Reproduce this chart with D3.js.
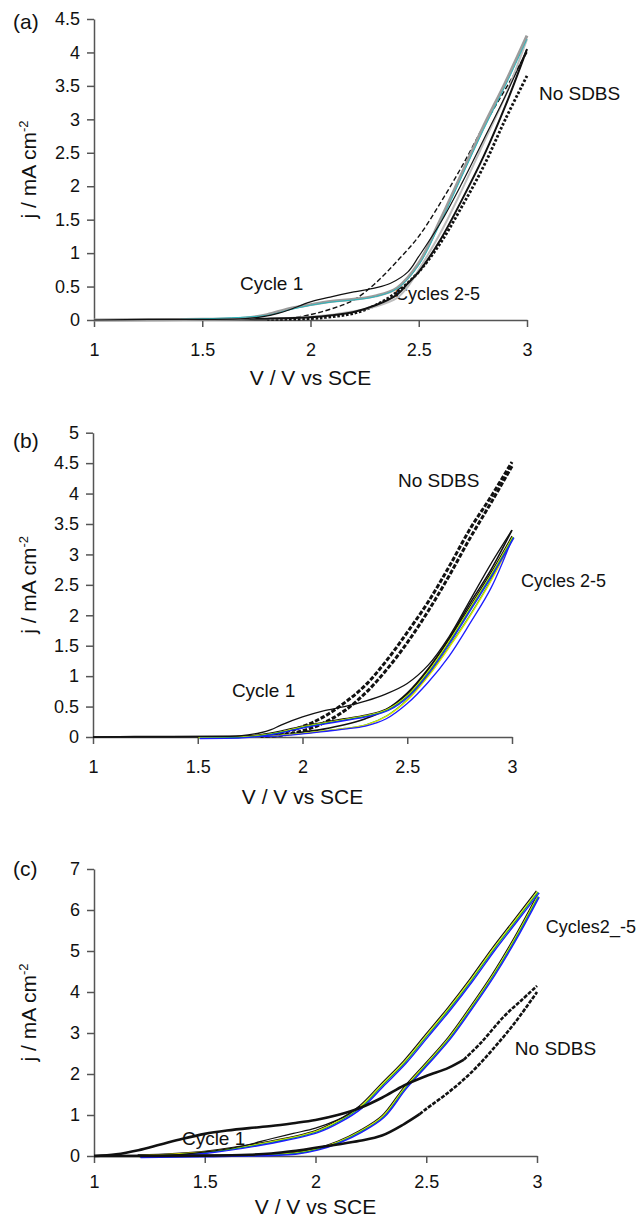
<!DOCTYPE html>
<html lang="en">
<head>
<meta charset="UTF-8">
<title>Cyclic voltammograms with and without SDBS</title>
<script src="https://d3js.org/d3.v7.min.js"></script>
<style>
    body { margin: 0; background: #fff; }
    svg { display: block; font-family: "Liberation Sans", Arial, sans-serif; }
    .axis path, .axis line { stroke: #555; stroke-width: 1.5px; }
    .axis text { font-size: 18px; fill: #111; font-family: "Liberation Sans", Arial, sans-serif; }
    .title { font-size: 21px; fill: #111; }
    .note { font-size: 19px; fill: #111; }
    .letter { font-size: 21px; fill: #111; }
    .curve { fill: none; stroke-linejoin: round; stroke-linecap: butt; }
</style>
</head>
<body>
<svg id="chart" width="640" height="1220"></svg>
<script>
    // tick values
    const xTicks = [1, 1.5, 2, 2.5, 3];
    const yTicksA = [0, 0.5, 1, 1.5, 2, 2.5, 3, 3.5, 4, 4.5];
    const yTicksB = [0, 0.5, 1, 1.5, 2, 2.5, 3, 3.5, 4, 4.5, 5];
    const yTicksC = [0, 1, 2, 3, 4, 5, 6, 7];

    // panel (a) : [V, j]
    const aCycle1Fwd = [[1, 0], [1.25, 0.01], [1.5, 0.01], [1.7, 0.02], [1.78, 0.05], [1.85, 0.1], [1.9, 0.15], [2.0, 0.27], [2.1, 0.35], [2.2, 0.42], [2.3, 0.48], [2.37, 0.55], [2.45, 0.72], [2.5, 0.95], [2.6, 1.45], [2.7, 2.05], [2.8, 2.7], [2.9, 3.35], [3.0, 4.05]];
    const aCycle1Rev = [[3.0, 4.05], [2.9, 3.2], [2.8, 2.45], [2.7, 1.8], [2.6, 1.2], [2.5, 0.72], [2.45, 0.55], [2.4, 0.38], [2.3, 0.22], [2.2, 0.12], [2.1, 0.07], [2.0, 0.04], [1.8, 0.02], [1.5, 0.01], [1, 0]];
    const aGreyFwd = [[1, 0], [1.5, 0.01], [1.7, 0.03], [1.8, 0.08], [1.9, 0.17], [2.0, 0.23], [2.1, 0.28], [2.2, 0.31], [2.3, 0.36], [2.4, 0.48], [2.5, 0.85], [2.6, 1.5], [2.7, 2.2], [2.8, 2.9], [2.9, 3.55], [3.0, 4.25]];
    const aCyanFwd = [[1.4, 0.01], [1.8, 0.07], [1.9, 0.15], [2.0, 0.22], [2.1, 0.27], [2.2, 0.3], [2.3, 0.35], [2.4, 0.47], [2.5, 0.82], [2.6, 1.45], [2.7, 2.15], [2.8, 2.85], [2.9, 3.5], [3.0, 4.2]];
    const aGreyRev = [[3.0, 4.2], [2.9, 3.35], [2.8, 2.65], [2.7, 1.95], [2.6, 1.3], [2.5, 0.75], [2.45, 0.5], [2.4, 0.33], [2.3, 0.2], [2.2, 0.13], [2.1, 0.08], [2.0, 0.05], [1.8, 0.02], [1.5, 0.01], [1, 0]];
    const aNoSdbsFwd = [[1.9, 0.02], [2.0, 0.08], [2.1, 0.17], [2.2, 0.3], [2.3, 0.55], [2.4, 0.88], [2.5, 1.25], [2.6, 1.75], [2.7, 2.3], [2.8, 2.9], [2.9, 3.45], [3.0, 4.0]];
    const aNoSdbsRev = [[3.0, 3.65], [2.9, 3.0], [2.8, 2.3], [2.7, 1.7], [2.6, 1.15], [2.5, 0.72], [2.4, 0.42], [2.3, 0.22], [2.2, 0.1], [2.1, 0.05], [2.0, 0.02], [1.8, 0.01]];

    // panel (b)
    const bCycle1Fwd = [[1, 0], [1.2, 0.01], [1.5, 0.01], [1.7, 0.02], [1.8, 0.07], [1.85, 0.12], [1.9, 0.2], [2.0, 0.33], [2.1, 0.43], [2.2, 0.5], [2.3, 0.59], [2.4, 0.71], [2.5, 0.88], [2.6, 1.18], [2.7, 1.65], [2.8, 2.25], [2.9, 2.85], [3.0, 3.4]];
    const bCycle1Rev = [[3.0, 3.4], [2.9, 2.75], [2.8, 2.2], [2.7, 1.62], [2.6, 1.12], [2.5, 0.72], [2.4, 0.45], [2.3, 0.3], [2.2, 0.2], [2.1, 0.13], [2.0, 0.08], [1.9, 0.03], [1.7, 0.01], [1, 0]];
    const bCycUp = [[1.5, 0], [1.7, 0.01], [1.8, 0.04], [1.9, 0.1], [2.0, 0.18], [2.1, 0.24], [2.2, 0.3], [2.3, 0.36], [2.4, 0.46], [2.5, 0.7], [2.6, 1.1], [2.7, 1.6], [2.8, 2.15], [2.9, 2.7], [3.0, 3.3]];
    const bCycDown = [[3.0, 3.28], [2.9, 2.6], [2.8, 2.02], [2.7, 1.5], [2.6, 1.02], [2.5, 0.62], [2.4, 0.35], [2.3, 0.2], [2.2, 0.14], [2.1, 0.1], [2.0, 0.06], [1.9, 0.03], [1.8, 0.01], [1.5, 0]];
    const bBlueDown = [[3.0, 3.25], [2.9, 2.45], [2.8, 1.87], [2.7, 1.33], [2.6, 0.9], [2.5, 0.55], [2.4, 0.3], [2.3, 0.18], [2.2, 0.13], [2.1, 0.09], [2.0, 0.05], [1.9, 0.02], [1.8, 0.01]];
    const bNoSdbsUp = [[1.8, 0.02], [1.9, 0.07], [2.0, 0.17], [2.1, 0.33], [2.2, 0.56], [2.3, 0.85], [2.4, 1.25], [2.5, 1.72], [2.6, 2.22], [2.7, 2.8], [2.8, 3.42], [2.9, 3.95], [3.0, 4.52]];
    const bNoSdbsDown = [[3.0, 4.45], [2.9, 3.85], [2.8, 3.27], [2.7, 2.65], [2.6, 2.07], [2.5, 1.55], [2.4, 1.1], [2.3, 0.72], [2.2, 0.43], [2.1, 0.23], [2.0, 0.1], [1.9, 0.03], [1.8, 0.01]];

    // panel (c)
    const cBlackUp = [[1.0, 0], [1.1, 0.04], [1.2, 0.14], [1.3, 0.28], [1.4, 0.42], [1.5, 0.54], [1.6, 0.62], [1.7, 0.68], [1.8, 0.73], [1.9, 0.8], [2.0, 0.88], [2.1, 1.0], [2.2, 1.17], [2.3, 1.42], [2.4, 1.72], [2.5, 1.95], [2.6, 2.15], [2.67, 2.35]];
    const cNoSdbsUp = [[2.67, 2.35], [2.75, 2.78], [2.85, 3.4], [2.93, 3.8], [3.0, 4.15]];
    const cBlackDown = [[1.0, 0], [1.5, 0.01], [1.7, 0.03], [1.8, 0.06], [1.9, 0.12], [2.0, 0.2], [2.1, 0.28], [2.2, 0.37], [2.3, 0.5], [2.4, 0.78], [2.47, 1.02]];
    const cNoSdbsDown = [[2.47, 1.02], [2.5, 1.15], [2.6, 1.55], [2.7, 2.02], [2.8, 2.6], [2.9, 3.25], [3.0, 4.0]];
    const cThin = [[1.2, 0], [1.4, 0.04], [1.5, 0.1], [1.6, 0.17], [1.7, 0.28], [1.8, 0.42], [1.9, 0.55], [2.0, 0.68], [2.1, 0.88], [2.15, 1.02], [2.2, 1.22]];
    const cCycUp = [[1.2, 0.01], [1.5, 0.1], [1.8, 0.35], [2.0, 0.6], [2.1, 0.85], [2.2, 1.2], [2.3, 1.75], [2.4, 2.3], [2.5, 2.95], [2.6, 3.6], [2.7, 4.3], [2.8, 5.05], [2.9, 5.75], [3.0, 6.45]];
    const cCycDown = [[3.0, 6.35], [2.9, 5.35], [2.8, 4.45], [2.7, 3.65], [2.6, 2.9], [2.5, 2.28], [2.4, 1.68], [2.3, 0.98], [2.2, 0.62], [2.1, 0.36], [2.0, 0.18], [1.9, 0.08], [1.8, 0.05], [1.5, 0.02], [1.2, 0]];

    const BLACK = "#111", YELLOW = "#e6e600", GREEN = "#12a83c", BLUE = "#1c1cff";

    const panels = [
        {
            letter: "(a)", letterY: 29, left: 94, right: 527, top: 19, bottom: 320, yMax: 4.5, yTicks: yTicksA,
            xPad: 16, titleY: 385,
            series: [
                { d: aNoSdbsRev, c: BLACK, w: 2.8, dash: "2.6,1.8" },
                { d: aNoSdbsFwd, c: BLACK, w: 1.4, dash: "5,2.5" },
                { d: aGreyRev, c: "#bdbdbd", w: 2 },
                { d: aCycle1Rev, c: BLACK, w: 2 },
                { d: aGreyFwd, c: "#9c9c9c", w: 3 },
                { d: aCyanFwd, c: "#2ab8be", w: 1 },
                { d: aCycle1Fwd, c: BLACK, w: 1.2 }
            ],
            notes: [["Cycle 1", 1.674, 0.45], ["Cycles 2-5", 2.39, 0.3], ["No SDBS", 3.055, 3.29]]
        },
        {
            letter: "(b)", letterY: 448, left: 93, right: 512, top: 432.7, bottom: 737, yMax: 5, yTicks: yTicksB,
            xPad: 16, titleY: 804,
            series: [
                { d: bNoSdbsUp, c: BLACK, w: 3, dash: "4.5,1.8" },
                { d: bNoSdbsDown, c: BLACK, w: 3, dash: "4.5,1.8" },
                { d: bCycle1Rev, c: BLACK, w: 1.6 },
                { d: bCycDown, c: GREEN, w: 1.3, dx: 0.6 },
                { d: bCycDown, c: YELLOW, w: 1.3, dx: 1.2 },
                { d: bBlueDown, c: BLUE, w: 1.3 },
                { d: bCycUp, c: BLACK, w: 1.3 },
                { d: bCycUp, c: YELLOW, w: 1.3, dx: 0.8, dy: 0.6 },
                { d: bCycUp, c: GREEN, w: 1.2, dx: 1.4, dy: 1 },
                { d: bCycUp, c: BLUE, w: 1.3, dx: 2, dy: 1.5 },
                { d: bCycle1Fwd, c: BLACK, w: 1.3 }
            ],
            notes: [["Cycle 1", 1.663, 0.66], ["No SDBS", 2.456, 4.11], ["Cycles 2-5", 3.043, 2.46]]
        },
        {
            letter: "(c)", letterY: 876, left: 94, right: 537, top: 869, bottom: 1156, yMax: 7, yTicks: yTicksC,
            xPad: 12, titleY: 1214,
            series: [
                { d: cCycDown, c: BLACK, w: 1.3 },
                { d: cCycDown, c: YELLOW, w: 1.3, dx: 0.8, dy: 0.5 },
                { d: cCycDown, c: GREEN, w: 1.2, dx: 1.4, dy: 1 },
                { d: cCycDown, c: BLUE, w: 1.4, dx: 2.2, dy: 1.5 },
                { d: cCycUp, c: BLACK, w: 1.3, dx: -0.6, dy: -0.6 },
                { d: cCycUp, c: YELLOW, w: 1.3, dx: 0.4, dy: 0 },
                { d: cCycUp, c: GREEN, w: 1.2, dx: 1.2, dy: 0.6 },
                { d: cCycUp, c: BLUE, w: 1.4, dx: 2.2, dy: 1.3 },
                { d: cThin, c: BLACK, w: 1.2 },
                { d: cBlackUp, c: BLACK, w: 2.6 },
                { d: cNoSdbsUp, c: BLACK, w: 2.6, dash: "4,1.4" },
                { d: cBlackDown, c: BLACK, w: 2.6 },
                { d: cNoSdbsDown, c: BLACK, w: 2.6, dash: "4,1.4" }
            ],
            notes: [["Cycle 1", 1.397, 0.27], ["Cycles2_-5", 3.04, 5.44], ["No SDBS", 2.9, 2.46]]
        }
    ];

    const svg = d3.select("#chart");

    panels.forEach(p => {
        const x = d3.scaleLinear().domain([1, 3]).range([p.left, p.right]);
        const y = d3.scaleLinear().domain([0, p.yMax]).range([p.bottom, p.top]);
        const g = svg.append("g");

        g.append("g")
            .attr("class", "axis")
            .attr("transform", `translate(0,${p.bottom})`)
            .call(d3.axisBottom(x).tickValues(xTicks).tickFormat(d3.format("")).tickSize(7).tickSizeOuter(0).tickPadding(p.xPad));

        g.append("g")
            .attr("class", "axis")
            .attr("transform", `translate(${p.left},0)`)
            .call(d3.axisLeft(y).tickValues(p.yTicks).tickFormat(d3.format("")).tickSize(7).tickSizeOuter(0).tickPadding(7));

        g.selectAll(".axis text").attr("fill", "#111");

        // annotations sit under the curves
        g.selectAll(".note")
            .data(p.notes)
            .join("text")
            .attr("class", "note")
            .attr("x", d => x(d[1]))
            .attr("y", d => y(d[2]))
            .style("font-size", d => d[0].length > 9 ? "18px" : null)
            .text(d => d[0]);

        const line = d3.line()
            .x(d => x(d[0]))
            .y(d => y(d[1]))
            .curve(d3.curveCatmullRom.alpha(0.5));

        g.selectAll(".curve")
            .data(p.series)
            .join("path")
            .attr("class", "curve")
            .attr("d", s => line(s.d))
            .attr("stroke", s => s.c)
            .attr("stroke-width", s => s.w)
            .attr("stroke-dasharray", s => s.dash || null)
            .attr("transform", s => `translate(${s.dx || 0},${s.dy || 0})`);

        // panel letter
        g.append("text")
            .attr("class", "letter")
            .attr("x", 13)
            .attr("y", p.letterY)
            .text(p.letter);

        // axis titles
        g.append("text")
            .attr("class", "title")
            .attr("x", (p.left + p.right) / 2)
            .attr("y", p.titleY)
            .attr("text-anchor", "middle")
            .text("V / V vs SCE");

        const yt = g.append("text")
            .attr("class", "title")
            .attr("text-anchor", "middle")
            .attr("transform", `translate(36,${(p.top + p.bottom) / 2}) rotate(-90)`);
        yt.append("tspan").text("j / mA cm");
        yt.append("tspan").attr("dy", -8).style("font-size", "13px").text("-2");
    });
</script>
</body>
</html>
